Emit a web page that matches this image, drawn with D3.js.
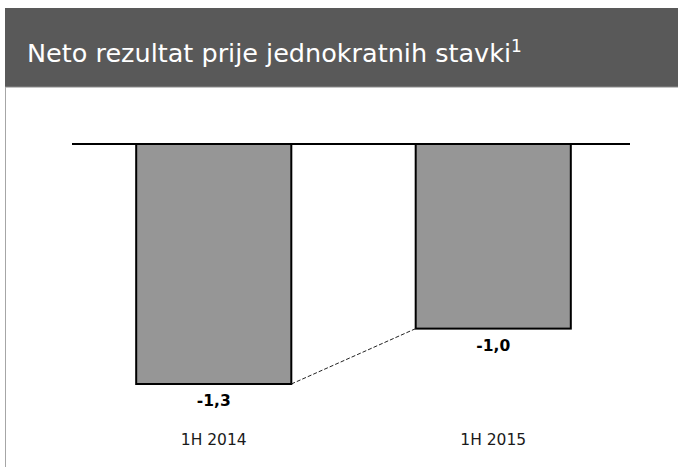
<!DOCTYPE html>
<html>
<head>
<meta charset="utf-8">
<script src="https://cdn.jsdelivr.net/npm/d3@7"></script>
<style>
html,body{margin:0;padding:0;background:#fff;}
svg{display:block;}
</style>
</head>
<body>
<svg id="chart" width="678" height="467"></svg>
<script>
const categories = ["1H 2014", "1H 2015"];
const values = [-1.3, -1.0];
const valueLabels = ["-1,3", "-1,0"];
const titleText = "Neto rezultat prije jednokratnih stavki";
const titleSup = "1";

const svg = d3.select("#chart");
const W = 678, H = 467;

// header band
svg.append("rect").attr("x", 5).attr("y", 8).attr("width", W - 5).attr("height", 79).attr("fill", "#595959");
svg.append("line").attr("x1", 5).attr("x2", W).attr("y1", 87).attr("y2", 87).attr("stroke", "#8a8a8a").attr("stroke-width", 1);
// left border
svg.append("line").attr("x1", 5.5).attr("x2", 5.5).attr("y1", 87).attr("y2", H).attr("stroke", "#a6a6a6").attr("stroke-width", 1);

const title = svg.append("text").attr("x", 27).attr("y", 62)
  .attr("fill", "#ffffff").attr("font-family", "DejaVu Sans, Verdana, sans-serif").attr("font-size", 25.5);
title.append("tspan").text(titleText);
title.append("tspan").attr("font-size", 17).attr("dy", -10).text(titleSup);

const x = d3.scaleBand().domain(categories).range([74, 633]).paddingInner(0.445).paddingOuter(0.2225);
const y = d3.scaleLinear().domain([0, -1.3]).range([144, 384]);

// bars
svg.selectAll("rect.bar").data(values).enter().append("rect")
  .attr("class", "bar")
  .attr("x", (d, i) => x(categories[i]))
  .attr("width", x.bandwidth())
  .attr("y", y(0))
  .attr("height", d => y(d) - y(0))
  .attr("fill", "#969696")
  .attr("stroke", "#000").attr("stroke-width", 2);

// zero axis line
svg.append("line").attr("x1", 72).attr("x2", 630).attr("y1", y(0)).attr("y2", y(0))
  .attr("stroke", "#000").attr("stroke-width", 2);

// dashed connector
svg.append("line")
  .attr("x1", x(categories[0]) + x.bandwidth()).attr("y1", y(values[0]))
  .attr("x2", x(categories[1])).attr("y2", y(values[1]))
  .attr("stroke", "#222").attr("stroke-width", 1).attr("stroke-dasharray", "4,2");

// value labels
svg.selectAll("text.val").data(values).enter().append("text")
  .attr("class", "val")
  .attr("x", (d, i) => x(categories[i]) + x.bandwidth() / 2)
  .attr("y", d => y(d) + 22)
  .attr("text-anchor", "middle")
  .attr("font-family", "DejaVu Sans, Verdana, sans-serif").attr("font-weight", "bold").attr("font-size", 15.5)
  .attr("fill", "#000")
  .text((d, i) => valueLabels[i]);

// category labels
svg.selectAll("text.cat").data(categories).enter().append("text")
  .attr("class", "cat")
  .attr("x", d => x(d) + x.bandwidth() / 2)
  .attr("y", 445)
  .attr("text-anchor", "middle")
  .attr("font-family", "DejaVu Sans, Verdana, sans-serif").attr("font-size", 15.5)
  .attr("fill", "#1a1a1a")
  .text(d => d);
</script>
</body>
</html>
